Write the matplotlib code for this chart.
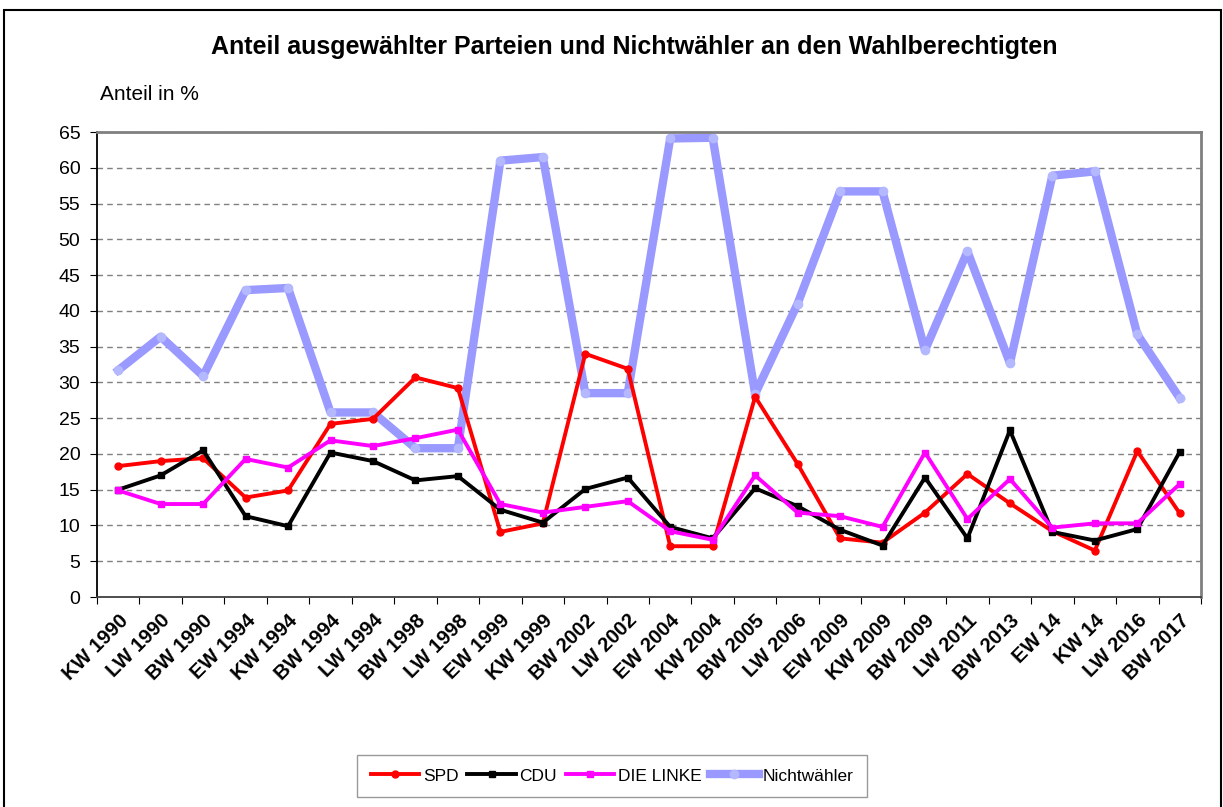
import matplotlib
matplotlib.use("Agg")
import matplotlib.pyplot as plt
from matplotlib.patches import Rectangle

plt.rcParams["font.family"] = ["Liberation Sans", "DejaVu Sans"]

wahlen = ["KW 1990", "LW 1990", "BW 1990", "EW 1994", "KW 1994", "BW 1994",
          "LW 1994", "BW 1998", "LW 1998", "EW 1999", "KW 1999", "BW 2002",
          "LW 2002", "EW 2004", "KW 2004", "BW 2005", "LW 2006", "EW 2009",
          "KW 2009", "BW 2009", "LW 2011", "BW 2013", "EW 14", "KW 14",
          "LW 2016", "BW 2017"]

spd = [18.3, 19.0, 19.4, 13.9, 14.9, 24.2, 24.9, 30.7, 29.2, 9.1, 10.3, 34.0,
       31.9, 7.1, 7.1, 28.0, 18.6, 8.2, 7.6, 11.8, 17.2, 13.1, 9.2, 6.5, 20.4, 11.7]
cdu = [15.0, 17.0, 20.5, 11.3, 9.9, 20.2, 19.0, 16.3, 16.9, 12.2, 10.4, 15.1,
       16.7, 9.8, 8.2, 15.2, 12.7, 9.4, 7.2, 16.7, 8.2, 23.3, 9.1, 7.9, 9.5, 20.3]
linke = [14.9, 13.0, 13.0, 19.3, 18.1, 21.9, 21.1, 22.2, 23.4, 13.0, 11.8, 12.6,
         13.4, 9.2, 8.0, 17.0, 11.8, 11.3, 9.8, 20.2, 10.9, 16.5, 9.7, 10.3, 10.3, 15.8]
nichtwaehler = [31.7, 36.4, 30.9, 42.9, 43.2, 25.8, 25.8, 20.8, 20.8, 61.0, 61.5,
                28.5, 28.5, 64.1, 64.2, 28.4, 41.0, 56.7, 56.7, 34.5, 48.3, 32.7,
                58.9, 59.5, 36.7, 27.8]

fig = plt.figure(figsize=(12.23, 8.07), dpi=100)
ax = fig.add_axes([0.0793, 0.2602, 0.9027, 0.5762])

# outer frame of the chart area
fig.patches.append(Rectangle((4 / 1223, -0.01), 1217 / 1223, 1 - 10 / 807 + 0.01,
                             transform=fig.transFigure, fill=False,
                             edgecolor="black", linewidth=1.5))

x = list(range(len(wahlen)))
ax.plot(x, spd, color="#FF0000", linewidth=2.8, marker="o", markersize=5,
        label="SPD", zorder=3)
ax.plot(x, cdu, color="black", linewidth=2.8, marker="s", markersize=5,
        label="CDU", zorder=3)
ax.plot(x, linke, color="#FF00FF", linewidth=2.8, marker="s", markersize=5,
        label="DIE LINKE", zorder=3)
ax.plot(x, nichtwaehler, color="#9999FF", linewidth=6, marker="o",
        markersize=6, markerfacecolor="#B4B8FF", markeredgecolor="#B4B8FF",
        label="Nichtwähler", zorder=2)

ax.set_xlim(-0.5, len(wahlen) - 0.5)
ax.set_ylim(0, 65)
ax.set_yticks(range(0, 66, 5))
ax.tick_params(axis="y", labelsize=14, length=5, pad=7, direction="out")
# category boundaries get tick marks, labels sit at the centres
ax.set_xticks([i - 0.5 for i in range(len(wahlen) + 1)], minor=False)
ax.set_xticklabels([])
ax.set_xticks(x, minor=True)
ax.set_xticklabels(wahlen, minor=True, rotation=45, ha="right",
                   rotation_mode="anchor", fontsize=14.5, fontweight="bold")
ax.tick_params(axis="x", which="minor", length=0, pad=10)
ax.tick_params(axis="x", which="major", length=5, direction="out")

ax.yaxis.grid(True, linestyle=(0, (4, 3)), color="#808080", linewidth=1)
ax.set_axisbelow(True)
for side in ["top", "right"]:
    ax.spines[side].set_color("#808080")
    ax.spines[side].set_linewidth(2)
ax.spines["left"].set_linewidth(1.3)
ax.spines["bottom"].set_linewidth(1.3)
ax.spines["bottom"].set_color("#404040")

fig.text(0.519, 0.942, "Anteil ausgewählter Parteien und Nichtwähler an den Wahlberechtigten",
         ha="center", va="center", fontsize=18, fontweight="bold")
fig.text(100 / 1223, 1 - 95 / 807, "Anteil in %", ha="left", va="center", fontsize=15)

leg = fig.legend(loc="center", bbox_to_anchor=(612 / 1223, 1 - 776 / 807), ncol=4,
                 fontsize=12.5, frameon=True, fancybox=False, edgecolor="#808080",
                 handlelength=2.8, handletextpad=0.2, columnspacing=0.5,
                 borderpad=0.8, markerscale=1.0)
leg.get_frame().set_linewidth(1)

fig.savefig("out.png", dpi=100)
